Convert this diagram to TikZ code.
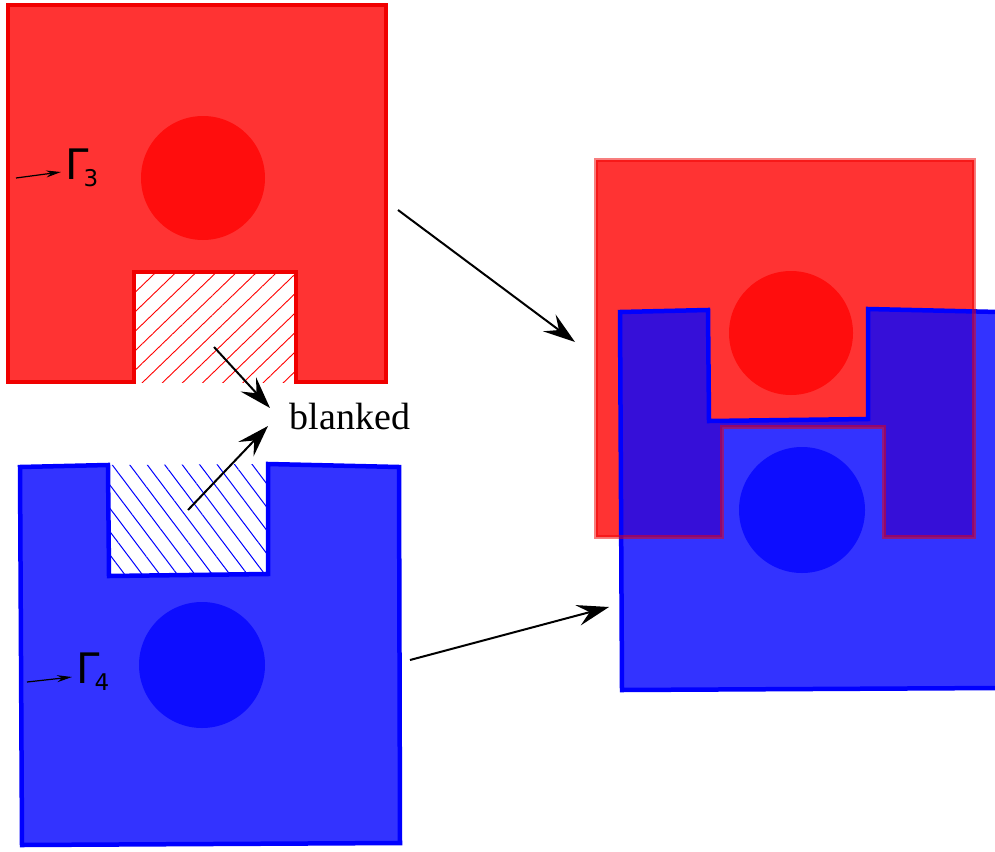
\documentclass[tikz,border=0pt]{standalone}
\usepackage{fontspec}
\newfontfamily\captfont{Liberation Serif}
\newfontfamily\bndfont{DejaVu Sans}
\usetikzlibrary{arrows.meta,patterns.meta}

\definecolor{redbody}{HTML}{FF3333}
\definecolor{redcore}{HTML}{FF0D0D}
\definecolor{rededge}{HTML}{F00000}
\definecolor{bluebody}{HTML}{3333FF}
\definecolor{bluecore}{HTML}{0D0DFF}
\definecolor{blueedge}{HTML}{0000FF}
\definecolor{overlap}{HTML}{360FD8}

\tikzset{
  redpiece/.style={fill=redbody, draw=rededge, line width=4pt},
  bluepiece/.style={fill=bluebody, draw=blueedge, line width=4.5pt},
  redhatch/.style={pattern={Lines[angle=44,distance=14pt,line width=0.9pt]}, pattern color=red},
  bluehatch/.style={pattern={Lines[angle=-53,distance=14pt,line width=1pt]}, pattern color=blue},
  bigarrow/.style={-{Stealth[length=32pt,width=21pt,inset=12pt]}, line width=2pt},
  tagarrow/.style={-{Stealth[length=15pt,width=7pt,inset=5pt]}, line width=1.2pt},
  bndlabel/.style={font=\bndfont\fontsize{42}{44}\selectfont, inner sep=0pt, anchor=base west}
}

\begin{document}
\begin{tikzpicture}[x=1pt,y=-1pt]
  \useasboundingbox (0,0) rectangle (995,851);
  \clip (0,0) rectangle (995,851);

  \fill[redhatch] (134,272) rectangle (296,382);
  \path[redpiece] (8,5) -- (386,5) -- (386,382) -- (296,382) -- (296,272) -- (134,272) -- (134,382) -- (8,382) -- cycle;
  \fill[redcore] (203,178) circle[radius=62pt];

  \fill[bluehatch] (108,465) -- (268,464) -- (268,574) -- (109,576) -- cycle;
  \path[bluepiece] (20,467) -- (108,465) -- (109,576) -- (268,574) -- (268,464) -- (399,467) -- (400,843) -- (22,845) -- cycle;
  \fill[bluecore] (202,665) circle[radius=63pt];

  \begin{scope}[shift={(588,155)}]
    \fill[redbody] (8,5) -- (386,5) -- (386,382) -- (296,382) -- (296,272) -- (134,272) -- (134,382) -- (8,382) -- cycle;
    \fill[redcore] (203,178) circle[radius=62pt];
  \end{scope}
  \begin{scope}[shift={(600,-155)}]
    \fill[bluebody] (20,467) -- (108,465) -- (109,576) -- (268,574) -- (268,464) -- (399,467) -- (400,843) -- (22,845) -- cycle;
    \fill[bluecore] (202,665) circle[radius=63pt];
  \end{scope}
  \begin{scope}
    \clip[shift={(588,155)}] (8,5) -- (386,5) -- (386,382) -- (296,382) -- (296,272) -- (134,272) -- (134,382) -- (8,382) -- cycle;
    \fill[overlap, shift={(600,-155)}] (20,467) -- (108,465) -- (109,576) -- (268,574) -- (268,464) -- (399,467) -- (400,843) -- (22,845) -- cycle;
  \end{scope}
  \draw[blueedge, line width=4.5pt, shift={(600,-155)}] (20,467) -- (108,465) -- (109,576) -- (268,574) -- (268,464) -- (399,467) -- (400,843) -- (22,845) -- cycle;
  \draw[rededge, line width=4pt, draw opacity=0.5, shift={(588,155)}] (8,5) -- (386,5) -- (386,382) -- (296,382) -- (296,272) -- (134,272) -- (134,382) -- (8,382) -- cycle;

  \node[bndlabel] (gamma3) at (65,179) {Γ\kern-0.12em\raisebox{-0.19em}{\fontsize{23}{24}\selectfont 3}};
  \node[bndlabel] (gamma4) at (76,683) {Γ\kern-0.12em\raisebox{-0.19em}{\fontsize{23}{24}\selectfont 4}};
  \node[font=\captfont\fontsize{38}{40}\selectfont, inner sep=0pt] (blanked) at (350,416) {blanked};

  \coordinate (g3tail) at (16,178);
  \coordinate (g3tip) at (61,172);
  \coordinate (g4tail) at (27,682);
  \coordinate (g4tip) at (72,677);
  \coordinate (redcut) at (214,347);
  \coordinate (redcuttip) at (270,408);
  \coordinate (bluecut) at (188,510);
  \coordinate (bluecuttip) at (268,426);
  \coordinate (redsrc) at (398,210);
  \coordinate (reddst) at (575,342);
  \coordinate (bluesrc) at (410,660);
  \coordinate (bluedst) at (609,607);

  \draw[tagarrow] (g3tail) -- (g3tip);
  \draw[tagarrow] (g4tail) -- (g4tip);
  \draw[bigarrow] (redcut) -- (redcuttip);
  \draw[bigarrow] (bluecut) -- (bluecuttip);
  \draw[bigarrow] (redsrc) -- (reddst);
  \draw[bigarrow] (bluesrc) -- (bluedst);

\end{tikzpicture}
\end{document}
